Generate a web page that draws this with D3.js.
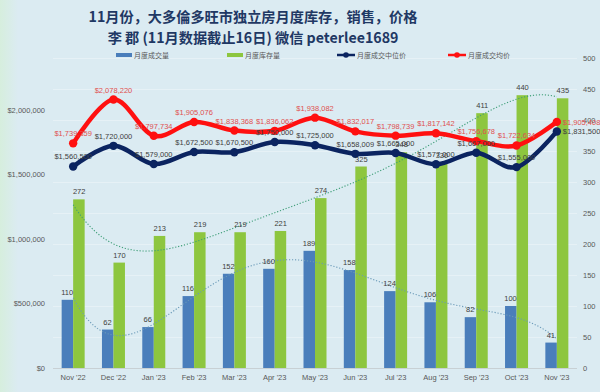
<!DOCTYPE html>
<html><head><meta charset="utf-8">
<script src="https://cdn.jsdelivr.net/npm/d3@7"></script>
<style>body{margin:0;background:#DBEBF2;} svg{display:block}</style>
</head><body><svg id="c" width="600" height="392"></svg>
<script>
const categories = ["Nov '22","Dec '22","Jan '23","Feb '23","Mar '23","Apr '23","May '23","Jun '23","Jul '23","Aug '23","Sep '23","Oct '23","Nov '23"];
const sales = [110,62,66,116,152,160,189,158,124,106,82,100,41];
const inventory = [272,170,213,219,219,221,274,325,348,330,411,440,435];
const medianPrice = [1560500,1720000,1579000,1672500,1670500,1750000,1725000,1658009,1665000,1577000,1667000,1555000,1831500];
const avgPrice = [1739359,2078220,1797734,1905076,1838368,1836062,1938082,1832017,1798739,1817142,1756678,1722634,1905408];
const leftTicks = [0,500000,1000000,1500000,2000000];
const rightTicks = [0,50,100,150,200,250,300,350,400,450,500];
const legendLabels = ["月度成交量","月度库存量","月度成交中位价","月度成交均价"];
const titleLines = ["11月份，大多倫多旺市独立房月度库存，销售，价格","李 郡 (11月数据截止16日) 微信 peterlee1689"];

const C = {blue:"#4A7EBB", green:"#8DC63F", navy:"#0B2460", red:"#FF1010",
  trendG:"#3E9E78", trendB:"#6A9AB8", axisTxt:"#595959", lbl:"#404040", redLbl:"#E05050", title:"#1F3864"};

const svg = d3.select("#c");
const defs = svg.append("defs");
const lg = defs.append("linearGradient").attr("id","bg").attr("x1",0).attr("x2",1).attr("y1",0).attr("y2",0);
lg.append("stop").attr("offset","0").attr("stop-color","#D6EEDD");
lg.append("stop").attr("offset","0.03").attr("stop-color","#DBEBF2");
lg.append("stop").attr("offset","1").attr("stop-color","#DBEBF2");
svg.append("rect").attr("width",600).attr("height",392).attr("fill","url(#bg)");

const L=53, R=577, T=58, B=368;
const x = d3.scaleBand().domain(categories).range([L,R]).paddingInner(0).paddingOuter(0);
const yL = d3.scaleLinear().domain([0,2400000]).range([B,T]);
const yR = d3.scaleLinear().domain([0,500]).range([B,T]);
const cx = c => x(c) + x.bandwidth()/2;
const bw = 11.5;

// gridlines
svg.append("g").selectAll("line").data(rightTicks.slice(1)).join("line")
  .attr("x1",L).attr("x2",R).attr("y1",d=>yR(d)+0.5).attr("y2",d=>yR(d)+0.5)
  .attr("stroke","#E6F1F6").attr("stroke-width",1);

// axes
const axL = svg.append("g").attr("transform",`translate(${L-8},0)`)
  .call(d3.axisLeft(yL).tickValues(leftTicks).tickSize(0).tickPadding(0).tickFormat(d=>"$"+d3.format(",")(d)));
const axR = svg.append("g").attr("transform",`translate(${R+6},0)`)
  .call(d3.axisRight(yR).tickValues(rightTicks).tickSize(0).tickPadding(0));
const axB = svg.append("g").attr("transform",`translate(0,${B})`)
  .call(d3.axisBottom(x).tickSize(0).tickPadding(7));
[axL,axR,axB].forEach(a=>{a.select(".domain").remove();
  a.selectAll("text").attr("fill",C.axisTxt).style("font-family","Liberation Sans, Arial").style("font-size","7.5px");});
svg.append("line").attr("x1",L).attr("x2",R).attr("y1",B+0.5).attr("y2",B+0.5).attr("stroke","#C8D0D4");

// bars
svg.append("g").selectAll("rect").data(sales).join("rect")
  .attr("x",(d,i)=>cx(categories[i])-bw).attr("width",bw)
  .attr("y",d=>yR(d)).attr("height",d=>B-yR(d)).attr("fill",C.blue);
svg.append("g").selectAll("rect").data(inventory).join("rect")
  .attr("x",(d,i)=>cx(categories[i])).attr("width",bw)
  .attr("y",d=>yR(d)).attr("height",d=>B-yR(d)).attr("fill",C.green);

// polynomial trendlines (least squares, derived from data)
function polyfit(ys,deg){
  const n=ys.length, m=deg+1;
  const A=Array.from({length:m},()=>new Array(m+1).fill(0));
  for(let k=0;k<n;k++){const xv=(k+1-7)/6;
    for(let i=0;i<m;i++){for(let j=0;j<m;j++)A[i][j]+=Math.pow(xv,i+j);A[i][m]+=ys[k]*Math.pow(xv,i);}}
  for(let i=0;i<m;i++){let p=i;for(let r=i+1;r<m;r++)if(Math.abs(A[r][i])>Math.abs(A[p][i]))p=r;
    [A[i],A[p]]=[A[p],A[i]];
    for(let r=0;r<m;r++){if(r===i)continue;const f=A[r][i]/A[i][i];for(let c=i;c<=m;c++)A[r][c]-=f*A[i][c];}}
  const co=A.map((row,i)=>row[m]/row[i]);
  return t=>{const xv=(t+1-7)/6;return co.reduce((s,c,i)=>s+c*Math.pow(xv,i),0);};
}
const step = x.step(), x0 = cx(categories[0]);
function trend(ys,deg,color){
  const f=polyfit(ys,deg); const pts=d3.range(0,12.001,0.1).map(t=>[x0+t*step,yR(f(t))]);
  svg.append("path").attr("d",d3.line()(pts)).attr("fill","none").attr("stroke",color)
    .attr("stroke-width",1.1).attr("stroke-dasharray","1.2,1.8");
}
trend(inventory,5,C.trendG);
trend(sales,5,C.trendB);

// lines
const lineGen = d3.line().curve(d3.curveCardinal.tension(0));
function series(vals,color){
  const pts=vals.map((v,i)=>[cx(categories[i]),yL(v)]);
  svg.append("path").attr("d",lineGen(pts)).attr("fill","none").attr("stroke",color).attr("stroke-width",4.5)
    .attr("stroke-linejoin","round");
  svg.append("g").selectAll("circle").data(pts).join("circle").attr("cx",d=>d[0]).attr("cy",d=>d[1]).attr("r",4.2).attr("fill",color);
}
series(medianPrice,C.navy);
series(avgPrice,C.red);

// labels
const lblFont = "Liberation Sans, Arial";
function labels(vals,scale,fmt,color,dy,lastRight,ofs){
  svg.append("g").selectAll("text").data(vals).join("text")
    .attr("x",(d,i)=> (lastRight && i===vals.length-1) ? cx(categories[i])+6 : cx(categories[i])+ofs)
    .attr("y",(d,i)=> (lastRight && i===vals.length-1) ? scale(d)+3 : scale(d)+dy)
    .attr("text-anchor",(d,i)=> (lastRight && i===vals.length-1) ? "start":"middle")
    .attr("fill",color).style("font-family",lblFont).style("font-size","7.5px").text(fmt);
}
labels(sales,yR,d=>d,C.lbl,-5,false,-6);
labels(inventory,yR,d=>d,C.lbl,-5,false,6);
labels(medianPrice,yL,d=>"$"+d3.format(",")(d),C.lbl,-7,true,0);
labels(avgPrice,yL,d=>"$"+d3.format(",")(d),C.redLbl,-7,true,0);

// legend
const lgX=[116,227,337,448], lgY=55;
const lgG=svg.append("g");
lgG.append("rect").attr("x",lgX[0]).attr("y",lgY-2).attr("width",16).attr("height",4).attr("fill",C.blue);
lgG.append("rect").attr("x",lgX[1]).attr("y",lgY-2).attr("width",16).attr("height",4).attr("fill",C.green);
[[lgX[2],C.navy],[lgX[3],C.red]].forEach(([xx,c])=>{
  lgG.append("line").attr("x1",xx).attr("x2",xx+18).attr("y1",lgY).attr("y2",lgY).attr("stroke",c).attr("stroke-width",2.5);
  lgG.append("circle").attr("cx",xx+9).attr("cy",lgY).attr("r",2.8).attr("fill",c);
});
legendLabels.forEach((t,i)=>lgG.append("text").attr("x",lgX[i]+(i<2?18:20)).attr("y",lgY+2.5)
  .attr("fill",C.axisTxt).style("font-family","Noto Sans CJK SC").style("font-size","7px").text(t));

// title
svg.append("g").selectAll("text").data(titleLines).join("text")
  .attr("x",253).attr("y",(d,i)=>i?43:22).attr("text-anchor","middle")
  .attr("fill",C.title).style("font-family","Noto Sans CJK SC").style("font-weight","bold").style("font-size","14.2px").text(d=>d);
</script></body></html>
